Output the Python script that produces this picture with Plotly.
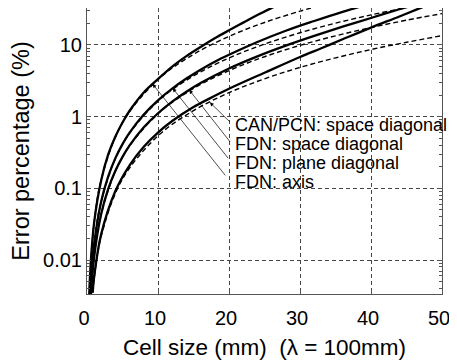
import numpy as np
import plotly.graph_objects as go

# ---- data ----
x_fdn_axis = [0.3, 0.5, 1, 2, 3, 4, 5, 6, 8, 10, 12, 14, 16, 18, 20, 22, 24, 26, 27]
y_fdn_axis = [0.003, 0.0082, 0.033, 0.13, 0.30, 0.53, 0.83, 1.21, 2.18, 3.35, 5.0, 7.0, 9.4, 12.4, 16.0, 20.5, 26.2, 32.8, 36.5]

x_fdn_plane = [0.45, 0.5, 1, 2, 3, 4, 5, 6, 8, 10, 12, 14, 16, 18, 20, 24, 28, 32, 36, 39]
y_fdn_plane = [0.0033, 0.0041, 0.0164, 0.0658, 0.148, 0.264, 0.414, 0.598, 1.071, 1.69, 2.46, 3.40, 4.52, 5.84, 7.3, 11.0, 15.8, 21.6, 29.0, 35.5]

x_fdn_space = [0.55, 1, 2, 3, 4, 5, 6, 8, 10, 12, 14, 16, 20, 24, 28, 32, 36, 40, 44, 46]
y_fdn_space = [0.0033, 0.011, 0.0439, 0.0989, 0.176, 0.275, 0.397, 0.71, 1.116, 1.62, 2.227, 2.941, 4.70, 6.95, 9.8, 13.4, 18.0, 23.8, 31.5, 36.0]

x_can_space = [0.8, 1, 2, 4, 6, 8, 10, 12, 15, 17.3, 20, 25, 30, 33, 36, 40, 44, 47, 48]
y_can_space = [0.0035, 0.0058, 0.023, 0.092, 0.21, 0.38, 0.6, 0.87, 1.36, 1.8, 2.45, 4.1, 6.8, 9.0, 12, 17.5, 25, 33, 36]

# dashed companions
x_axis_d = [0.35, 1, 2, 5, 10, 15, 20, 25, 30, 32]
y_axis_d = [0.004, 0.0329, 0.1316, 0.822, 3.29, 7.40, 13.16, 20.6, 29.6, 33.7]
x_plane_d = [0.5, 1, 2, 5, 10, 15, 20, 25, 30, 35, 40, 45]
y_plane_d = [0.0041, 0.01645, 0.0658, 0.411, 1.645, 3.70, 6.58, 10.28, 14.8, 20.15, 26.3, 33.3]
x_space_d = [0.6, 1, 2, 5, 10, 15, 20, 25, 30, 35, 40, 45, 50]
y_space_d = [0.0039, 0.011, 0.0439, 0.274, 1.097, 2.47, 4.39, 6.85, 9.87, 13.4, 17.5, 22.2, 27.4]
x_can_d = [0.8, 1, 2, 5, 10, 15, 20, 25, 30, 35, 40, 45, 50]
y_can_d = [0.0035, 0.0054, 0.0216, 0.135, 0.54, 1.215, 2.16, 3.375, 4.86, 6.6, 8.64, 10.9, 13.5]

labels = ["CAN/PCN: space diagonal", "FDN: space diagonal", "FDN: plane diagonal", "FDN: axis"]
x_ticks = [0, 10, 20, 30, 40, 50]
y_ticks = [0.01, 0.1, 1, 10]
y_tick_text = ["0.01", "0.1", "1", "10"]
y_minor = [m * 10.0 ** e for e in (-3, -2, -1, 0, 1) for m in range(2, 10)]

FONT = "Liberation Sans, Arial, Helvetica, sans-serif"

fig = go.Figure()
solid = dict(color="black", width=2.3)
dashed = dict(color="black", width=1.4, dash="5px,3px")

for xs, ys in [(x_fdn_axis, y_fdn_axis), (x_fdn_plane, y_fdn_plane),
               (x_fdn_space, y_fdn_space), (x_can_space, y_can_space)]:
    fig.add_trace(go.Scatter(x=xs, y=ys, mode="lines", line=dict(**solid, shape="spline"),
                             showlegend=False, hoverinfo="skip"))
for xs, ys in [(x_axis_d, y_axis_d), (x_plane_d, y_plane_d),
               (x_space_d, y_space_d), (x_can_d, y_can_d)]:
    fig.add_trace(go.Scatter(x=xs, y=ys, mode="lines", line=dict(**dashed, shape="spline"),
                             showlegend=False, hoverinfo="skip"))

# labels
label_logy = [-0.11, -0.375, -0.64, -0.905]
for txt, ly in zip(labels, label_logy):
    fig.add_annotation(x=20.6, y=ly, xref="x", yref="y", text=txt, showarrow=False,
                       xanchor="left", yanchor="middle",
                       font=dict(family=FONT, size=18, color="black"))

# leader arrows: tip on curve, tail near label
def on_curve(xs, ys, xt):
    return float(np.interp(xt, xs, np.log10(ys)))

tips = [(x_can_d, y_can_d, 17.3, 20.3, -0.09),
        (x_fdn_space, y_fdn_space, 14.4, 20.3, -0.37),
        (x_fdn_plane, y_fdn_plane, 12.07, 20.05, -0.60),
        (x_fdn_axis, y_fdn_axis, 9.25, 19.65, -0.84)]
for xs, ys, xt, tx, ty in tips:
    fig.add_annotation(x=xt, y=on_curve(xs, ys, xt), xref="x", yref="y",
                       ax=tx, ay=ty, axref="x", ayref="y", text="",
                       showarrow=True, arrowhead=2, arrowsize=1.1, arrowwidth=0.7,
                       arrowcolor="black", standoff=0)

axis_common = dict(showline=True, linecolor="#555", linewidth=1, mirror="ticks",
                   ticks="inside", ticklen=4, tickcolor="#555", automargin=False,
                   showgrid=True, gridcolor="#444", gridwidth=1, griddash="4px,3px",
                   zeroline=False, tickfont=dict(family=FONT, size=20, color="black"))

fig.update_xaxes(range=[0, 50], tickvals=x_ticks, ticklabelshift=-3, ticklabelstandoff=6,
                 **axis_common,
                 title=dict(text="Cell size (mm)  (λ = 100mm)", standoff=11,
                            font=dict(family=FONT, size=22.5, color="black")))
fig.update_yaxes(type="log", range=[np.log10(0.00336), np.log10(32.8)],
                 tickvals=y_ticks, ticktext=y_tick_text, **axis_common,
                 minor=dict(ticks="inside", ticklen=3, tickcolor="#555", showgrid=False,
                            tickvals=y_minor),
                 title=dict(text="Error percentage (%)", standoff=8,
                            font=dict(family=FONT, size=23.5, color="black")))

# the page body has an 8px margin; size the figure so the plot lands where the reference has it
# plot area in page pixels: x 87..442, y 8..294
fig.update_layout(width=449, height=353, margin=dict(l=79, r=15, t=0, b=67),
                  paper_bgcolor="white", plot_bgcolor="white", showlegend=False)

fig.write_html("out.html")
